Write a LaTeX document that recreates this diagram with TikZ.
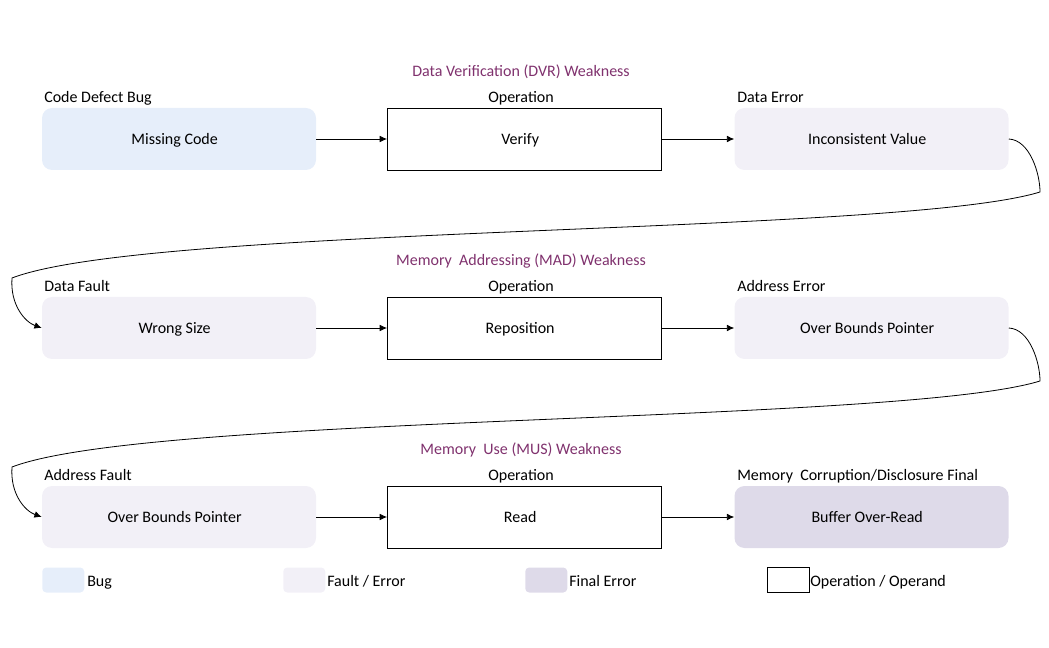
\documentclass[tikz,border=0pt]{standalone}
\usepackage{fontspec}
\setmainfont{Carlito}
\usetikzlibrary{arrows.meta}

\definecolor{bugfill}{RGB}{230,238,250}
\definecolor{faultfill}{RGB}{242,240,247}
\definecolor{finalfill}{RGB}{222,218,233}
\definecolor{weakcol}{RGB}{128,50,110}

\tikzset{
  stage/.style={minimum width=205.5pt, minimum height=46.5pt, inner sep=0pt,
    text height=10pt, text depth=2pt, font=\fontsize{12}{14}\selectfont,
    execute at begin node={\hspace*{-6.5pt}}},
  bugbox/.style={stage, fill=bugfill, rounded corners=7.5pt},
  faultbox/.style={stage, fill=faultfill, rounded corners=7.5pt},
  finalbox/.style={stage, fill=finalfill, rounded corners=7.5pt},
  opbox/.style={stage, draw, line width=0.7pt},
  tag/.style={anchor=base west, inner sep=0pt, font=\fontsize{12}{14}\selectfont},
  weak/.style={anchor=base, inner sep=0pt, text=weakcol, font=\fontsize{12}{14}\selectfont},
  swatch/.style={minimum width=31.5pt, minimum height=18.75pt, inner sep=0pt, anchor=west},
  flow/.style={-{Latex[length=5.5pt,width=5pt]}, line width=0.6pt}
}

\begin{document}
\begin{tikzpicture}[x=0.75pt, y=-0.75pt]
\useasboundingbox (0,0) rectangle (1049,648);

% row 1
\node[weak] (w1) at (521,76.5) {Data Verification (DVR) Weakness};
\node[tag] (t11) at (44,102.5) {Code Defect Bug};
\node[tag, anchor=base] (t12) at (521,102.5) {Operation};
\node[tag] (t13) at (737,102.5) {Data Error};
\node[bugbox] (mc) at (179,139) {Missing Code};
\node[opbox] (vf) at (524.5,139) {Verify};
\node[faultbox] (iv) at (871.5,139) {Inconsistent Value};
\draw[flow] (mc) -- (vf);
\draw[flow] (vf) -- (iv);

% row 2
\node[weak] (w2) at (521,265.5) {Memory\ \ Addressing (MAD) Weakness};
\node[tag] (t21) at (44,291.5) {Data Fault};
\node[tag, anchor=base] (t22) at (521,291.5) {Operation};
\node[tag] (t23) at (737,291.5) {Address Error};
\node[faultbox] (ws) at (179,328) {Wrong Size};
\node[opbox] (rp) at (524.5,328) {Reposition};
\node[faultbox] (obp) at (871.5,328) {Over Bounds Pointer};
\draw[flow] (ws) -- (rp);
\draw[flow] (rp) -- (obp);

% row 3
\node[weak] (w3) at (521,454.5) {Memory\ \ Use (MUS) Weakness};
\node[tag] (t31) at (44,480.5) {Address Fault};
\node[tag, anchor=base] (t32) at (521,480.5) {Operation};
\node[tag] (t33) at (737,480.5) {Memory\ \ Corruption/Disclosure Final};
\node[faultbox] (obq) at (179,517) {Over Bounds Pointer};
\node[opbox] (rd) at (524.5,517) {Read};
\node[finalbox] (bor) at (871.5,517) {Buffer Over-Read};
\draw[flow] (obq) -- (rd);
\draw[flow] (rd) -- (bor);

% wrap-around links
\draw[flow] (iv.east) .. controls (1030,140) and (1040,174) .. (1040,192)
  .. controls (900,235) and (150,225) .. (12,278)
  .. controls (10,305) and (25,322) .. (ws.west);
\draw[flow] (obp.east) .. controls (1030,329) and (1040,363) .. (1040,381)
  .. controls (900,424) and (150,414) .. (12,467)
  .. controls (10,494) and (25,511) .. (obq.west);

% legend
\node[swatch, fill=bugfill, rounded corners=3pt] (lb) at (42,580) {};
\node[tag] (lbt) at (87,586.5) {Bug};
\node[swatch, fill=faultfill, rounded corners=3pt] (lf) at (283,580) {};
\node[tag] (lft) at (327,586.5) {Fault / Error};
\node[swatch, fill=finalfill, rounded corners=3pt] (lx) at (525,580) {};
\node[tag] (lxt) at (569,586.5) {Final Error};
\node[swatch, draw, line width=0.7pt] (lo) at (767,580) {};
\node[tag] (lot) at (810,586.5) {Operation / Operand};
\end{tikzpicture}
\end{document}
